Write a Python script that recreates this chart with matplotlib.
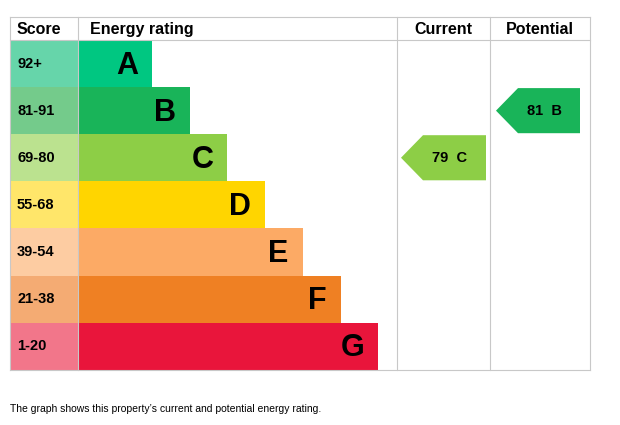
import matplotlib
matplotlib.use("Agg")
import matplotlib.pyplot as plt
from matplotlib.patches import Rectangle, Polygon

letters = ["A", "B", "C", "D", "E", "F", "G"]
scores = ["92+", "81-91", "69-80", "55-68", "39-54", "21-38", "1-20"]
bar_colors = ["#00c781", "#19b459", "#8dce46", "#ffd500", "#fcaa65", "#ef8023", "#e9153b"]
score_colors = ["#66d5aa", "#74cb8b", "#bbe28f", "#ffe66a", "#fdcca2", "#f4ab73", "#f2768a"]
current_value, current_letter = 79, "C"
potential_value, potential_letter = 81, "B"

fig = plt.figure(figsize=(6.2, 4.25), dpi=100)
ax = fig.add_axes([0, 0, 1, 1])
ax.set_xlim(0, 620)
ax.set_ylim(425, 0)
ax.axis("off")

top, head_h, row_h = 17, 23, 47.1
x0, xs, xc, xp, xe = 10, 78, 397, 490, 590
grid = "#c8c8c8"
bottom = top + head_h + row_h * 7

for x in [x0, xs, xc, xp, xe]:
    ax.plot([x, x], [top, bottom], color=grid, lw=0.8)
for y in [top, top + head_h, bottom]:
    ax.plot([x0, xe], [y, y], color=grid, lw=0.8)

hfont = dict(fontsize=11.5, fontweight="bold", fontfamily="Liberation Sans", va="center")
ax.text(17, top + head_h / 2 + 1, "Score", **hfont)
ax.text(90, top + head_h / 2 + 1, "Energy rating", **hfont)
ax.text((xc + xp) / 2, top + head_h / 2 + 1, "Current", ha="center", **hfont)
ax.text((xp + xe) / 2, top + head_h / 2 + 1, "Potential", ha="center", **hfont)

for i, (L, s, bc, sc) in enumerate(zip(letters, scores, bar_colors, score_colors)):
    y = top + head_h + i * row_h
    ax.add_patch(Rectangle((x0, y), xs - x0, row_h, color=sc, lw=0))
    right = 152 + i * 37.7
    ax.add_patch(Rectangle((xs, y), right - xs, row_h, color=bc, lw=0))
    ax.text(17, y + row_h / 2, s, fontsize=10.5, fontweight="bold", fontfamily="Liberation Sans", va="center")
    ax.text(right - 14, y + row_h / 2 + 2, L, fontsize=22, fontweight="bold", fontfamily="Liberation Sans",
            va="center", ha="right", color="black")

def arrow(l, r, val, letter):
    i = letters.index(letter)
    y = top + head_h + i * row_h + 1
    h = row_h - 2
    pts = [(l, y + h / 2), (l + 22, y), (r, y), (r, y + h), (l + 22, y + h)]
    ax.add_patch(Polygon(pts, closed=True, color=bar_colors[i], lw=0))
    ax.text((l + r) / 2 + 6, y + h / 2, f"{val}  {letter}", fontsize=10.5, fontweight="bold",
            fontfamily="Liberation Sans", va="center", ha="center", color="black")

arrow(xc + 4, xp - 4, current_value, current_letter)
arrow(xp + 6, xe - 10, potential_value, potential_letter)

ax.text(10, 409, "The graph shows this property\u2019s current and potential energy rating.",
        fontsize=7.5, fontfamily="Liberation Sans", va="center")

fig.savefig("out.png", dpi=100)
